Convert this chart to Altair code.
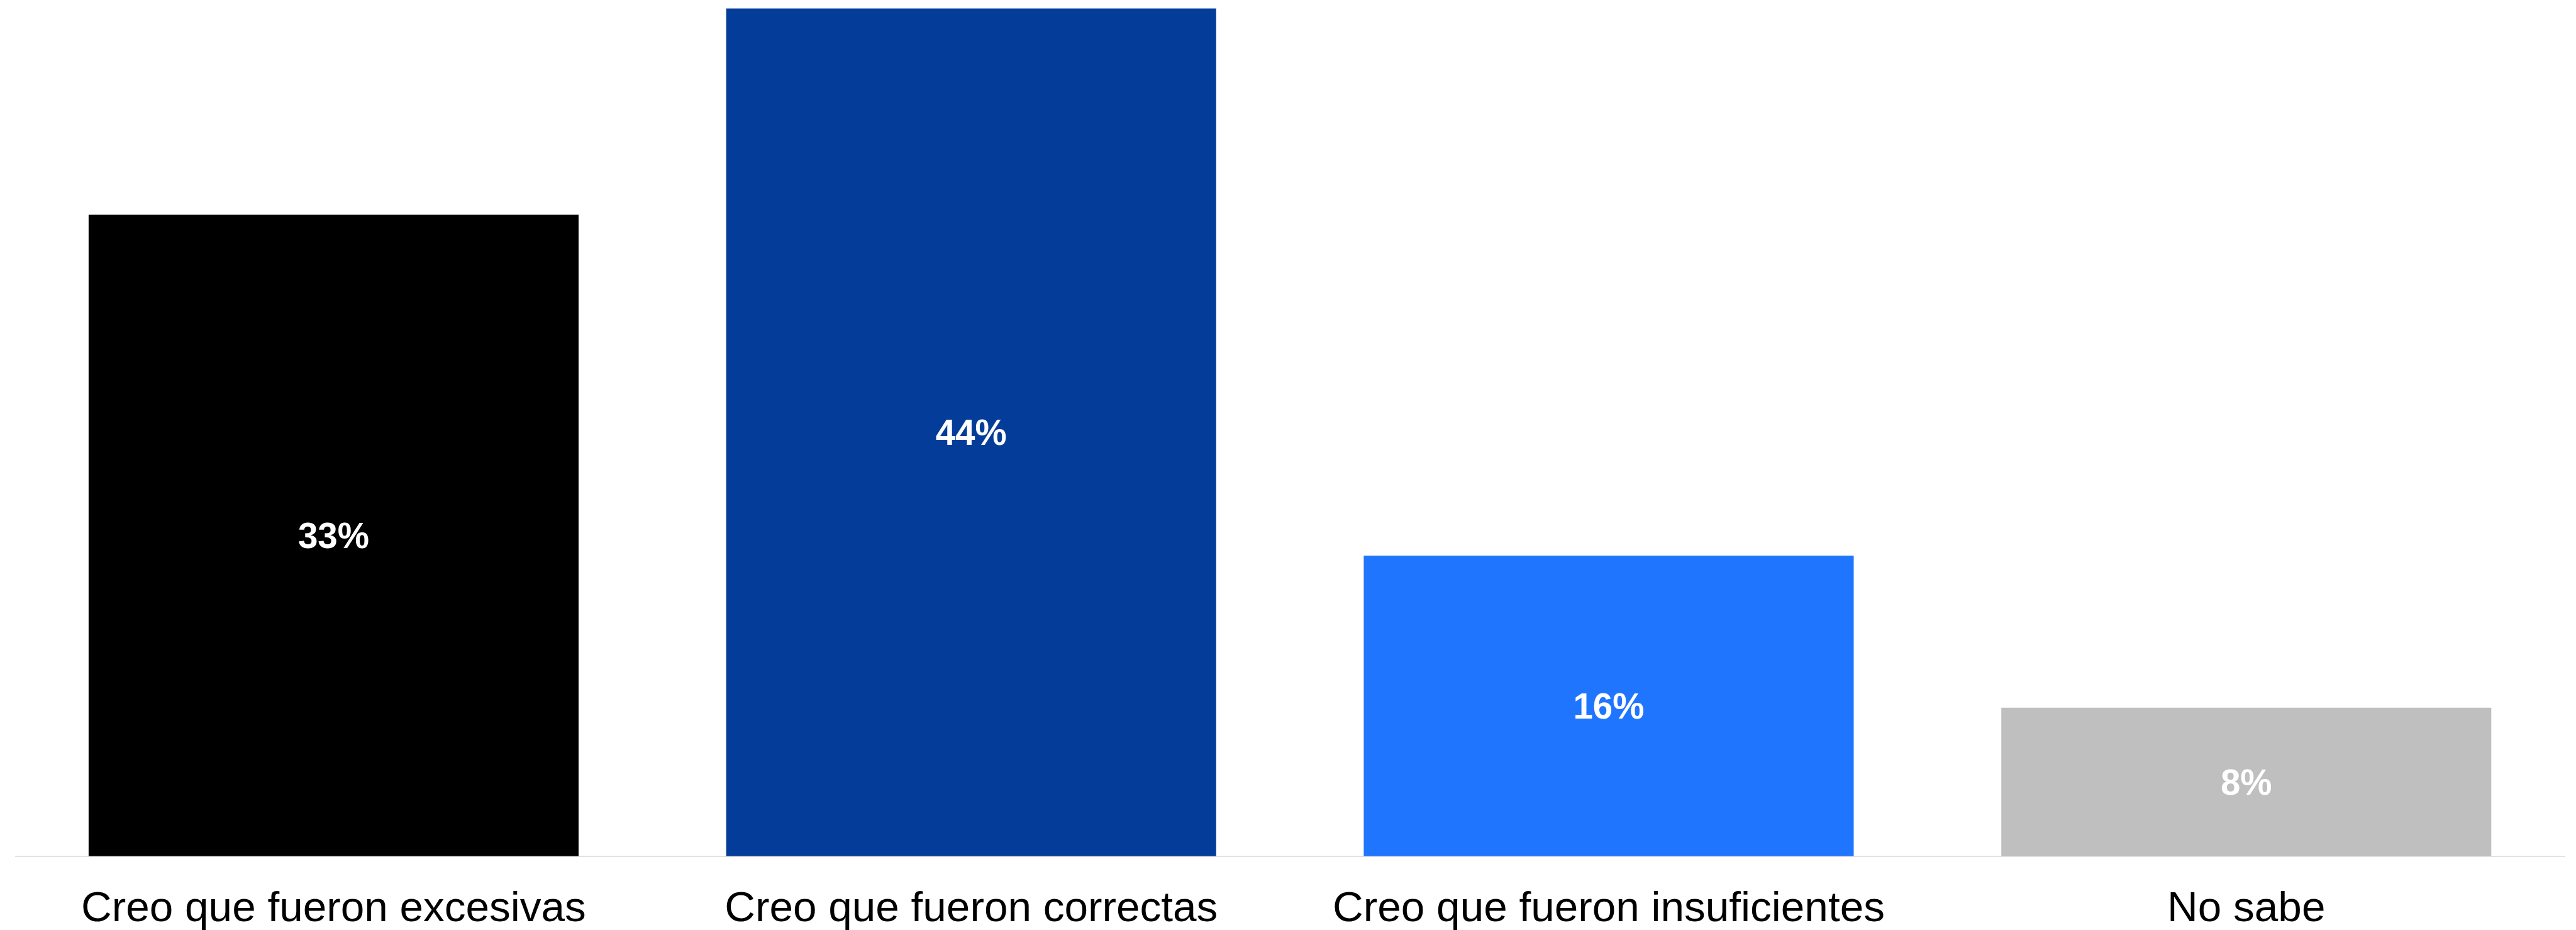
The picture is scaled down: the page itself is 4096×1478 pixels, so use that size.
import altair as alt
import pandas as pd

categories = ["Creo que fueron excesivas", "Creo que fueron correctas",
              "Creo que fueron insuficientes", "No sabe"]
values = [33.3, 44.0, 15.6, 7.7]
labels = ["33%", "44%", "16%", "8%"]
colors = ["#000000", "#033D99", "#1F75FE", "#BFBFBF"]

df = pd.DataFrame({"cat": categories, "val": values, "lab": labels})

FONT = "Liberation Sans"

x = alt.X("cat:N", sort=categories, title=None,
          scale=alt.Scale(paddingInner=0.2315, paddingOuter=0.1157),
          axis=alt.Axis(labelAngle=0, labelFontSize=67.5, labelFont=FONT,
                        labelColor="#000000", labelPadding=50, ticks=False,
                        tickSize=0, domainColor="#D9D9D9", domainWidth=1.5,
                        grid=False, labelLimit=2000))
y = alt.Y("val:Q", scale=alt.Scale(domain=[0, 44], nice=False, zero=True),
          axis=None)

bars = alt.Chart(df).mark_bar().encode(
    x=x, y=y,
    color=alt.Color("cat:N", sort=categories,
                    scale=alt.Scale(domain=categories, range=colors),
                    legend=None),
)

text = alt.Chart(df).transform_calculate(mid="datum.val / 2").mark_text(
    font=FONT, fontSize=56.5, fontWeight="bold", color="white",
    baseline="middle", align="center", dy=3
).encode(
    x=alt.X("cat:N", sort=categories),
    y=alt.Y("mid:Q"),
    text="lab:N",
)

chart = alt.layer(bars, text).properties(
    width=4055, height=1347, background="white",
    padding={"left": 15.6, "top": 5.6, "right": 0, "bottom": 0},
).configure_view(stroke=None, strokeWidth=0)

chart.save("out.html", embed_options={"renderer": "svg", "actions": False})
